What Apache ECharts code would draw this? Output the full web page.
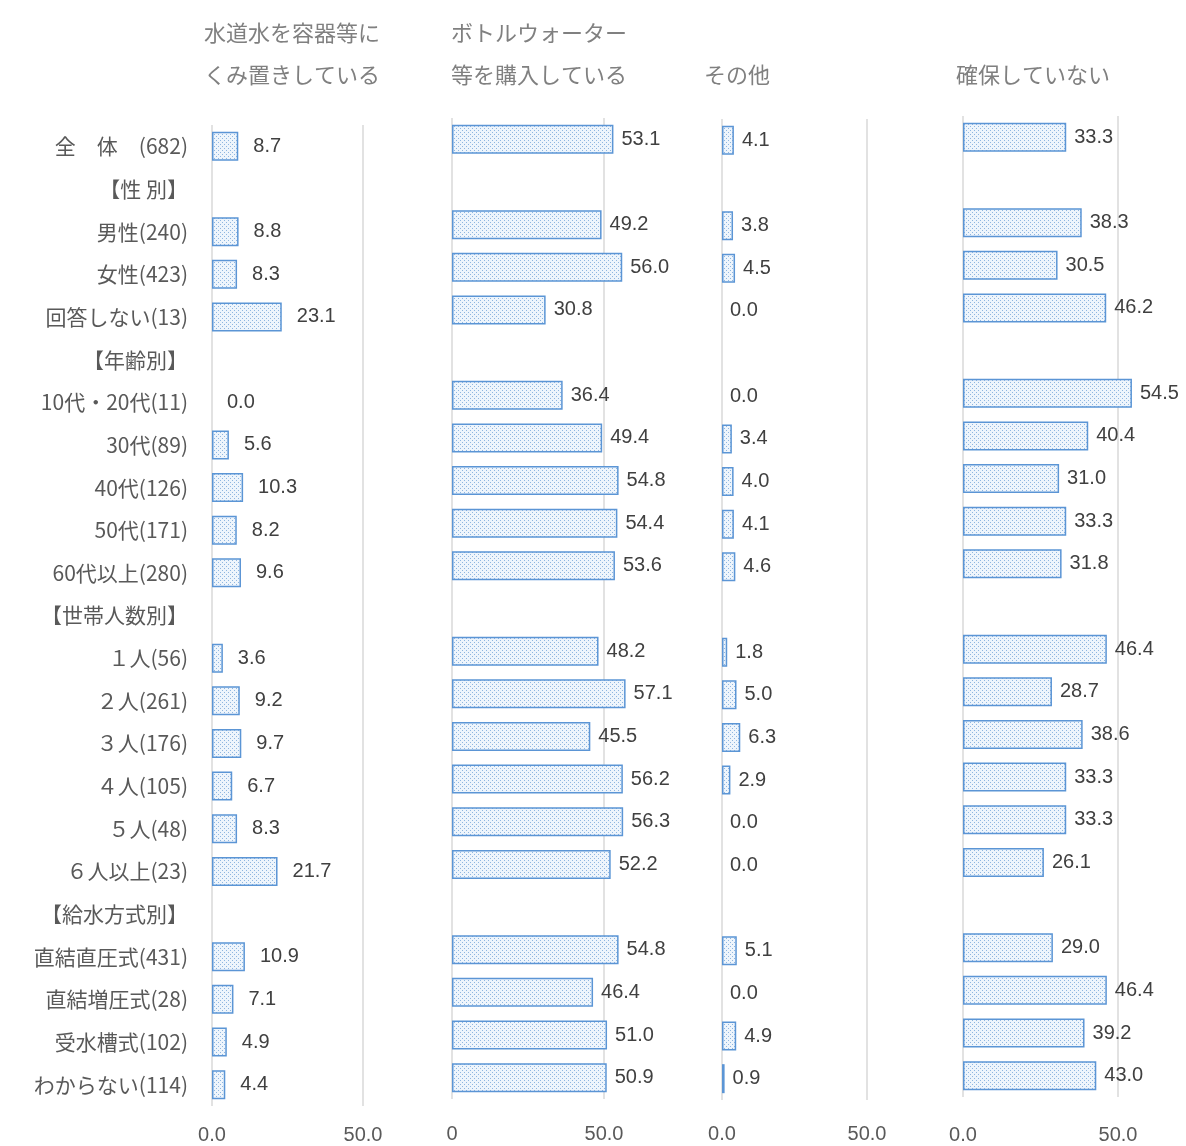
<!DOCTYPE html>
<html>
<head>
<meta charset="utf-8">
<script src="https://cdn.jsdelivr.net/npm/echarts@6/dist/echarts.min.js"></script>
<style>
html,body{margin:0;padding:0;background:#fff;}
#chart{width:1186px;height:1146px;}
</style>
</head>
<body>
<div id="chart"></div>
<script>
const categories = ["全　体　(682)", "【性 別】", "男性(240)", "女性(423)", "回答しない(13)", "【年齢別】", "10代・20代(11)", "30代(89)", "40代(126)", "50代(171)", "60代以上(280)", "【世帯人数別】", "１人(56)", "２人(261)", "３人(176)", "４人(105)", "５人(48)", "６人以上(23)", "【給水方式別】", "直結直圧式(431)", "直結増圧式(28)", "受水槽式(102)", "わからない(114)"];

const kumioki = [8.7, null, 8.8, 8.3, 23.1, null, 0.0, 5.6, 10.3, 8.2, 9.6, null, 3.6, 9.2, 9.7, 6.7, 8.3, 21.7, null, 10.9, 7.1, 4.9, 4.4];
const bottled = [53.1, null, 49.2, 56.0, 30.8, null, 36.4, 49.4, 54.8, 54.4, 53.6, null, 48.2, 57.1, 45.5, 56.2, 56.3, 52.2, null, 54.8, 46.4, 51.0, 50.9];
const other = [4.1, null, 3.8, 4.5, 0.0, null, 0.0, 3.4, 4.0, 4.1, 4.6, null, 1.8, 5.0, 6.3, 2.9, 0.0, 0.0, null, 5.1, 0.0, 4.9, 0.9];
const notSecured = [33.3, null, 38.3, 30.5, 46.2, null, 54.5, 40.4, 31.0, 33.3, 31.8, null, 46.4, 28.7, 38.6, 33.3, 33.3, 26.1, null, 29.0, 46.4, 39.2, 43.0];

const panelTitles = [["水道水を容器等に", "くみ置きしている"], ["ボトルウォーター", "等を購入している"], ["", "その他"], ["", "確保していない"]];
const xTickMin = 0, xTickMax = 50;

// dotted pattern fill
const pc = document.createElement('canvas');
pc.width = 4; pc.height = 4;
const pctx = pc.getContext('2d');
pctx.fillStyle = '#eef5fc';
pctx.fillRect(0, 0, 4, 4);
pctx.fillStyle = '#8fb6e0';
pctx.fillRect(0, 0, 1, 1);
pctx.fillRect(2, 2, 1, 1);

const FONT = '"Noto Sans CJK JP", "Noto Sans", sans-serif';
const NUMFONT = '"Liberation Sans", "Noto Sans", sans-serif';

const panels = [
  {data: kumioki, left: 212, width: 151, top: 125, dist: 15, margin: 19, zeroLabel: '0.0', title: panelTitles[0], tx: 292},
  {data: bottled, left: 452, width: 152, top: 118, dist: 8, margin: 25, zeroLabel: '0', title: panelTitles[1], tx: 539},
  {data: other, left: 722, width: 145, top: 119, dist: 8, margin: 24, zeroLabel: '0.0', title: panelTitles[2], tx: 737},
  {data: notSecured, left: 963, width: 155, top: 116, dist: 8, margin: 28, zeroLabel: '0.0', title: panelTitles[3], tx: 1033}
];
const H = 981;

const grid = [], xAxis = [], yAxis = [], series = [], graphic = [];
panels.forEach((p, i) => {
  grid.push({left: p.left, width: p.width, top: p.top, height: H, containLabel: false});
  xAxis.push({
    type: 'value', gridIndex: i, min: xTickMin, max: xTickMax, interval: 50,
    axisLine: {show: false}, axisTick: {show: false},
    splitLine: {show: true, lineStyle: {color: '#d9d9d9', width: 1.5}},
    axisLabel: {
      margin: p.margin, color: '#595959', fontSize: 20, fontFamily: NUMFONT,
      formatter: v => v === 0 ? p.zeroLabel : v.toFixed(1)
    }
  });
  yAxis.push({
    type: 'category', gridIndex: i, data: categories, inverse: true,
    axisLine: {show: false}, axisTick: {show: false},
    axisLabel: {show: i === 0, margin: 24, color: '#595959', fontSize: 21, fontFamily: FONT}
  });
  const items = p.data.map(v => v === 0 ? {value: 0, itemStyle: {borderWidth: 0, color: 'rgba(0,0,0,0)'}} : v);
  series.push({
    type: 'bar', xAxisIndex: i, yAxisIndex: i, data: items, barWidth: 29, clip: false,
    itemStyle: {color: {image: pc, repeat: 'repeat'}, borderColor: '#5b95d5', borderWidth: 1.5},
    label: {
      show: true, position: 'right', distance: p.dist, color: '#404040', fontSize: 20, fontFamily: NUMFONT,
      formatter: q => (q.value === null || q.value === undefined) ? '' : Number(q.value).toFixed(1)
    },
    animation: false
  });
  p.title.forEach((t, j) => {
    if (!t) return;
    graphic.push({
      type: 'text', x: p.tx, y: j === 0 ? 33 : 75,
      style: {text: t, fill: '#808080', font: '22px ' + FONT, textAlign: 'center', textVerticalAlign: 'middle'}
    });
  });
});

const chart = echarts.init(document.getElementById('chart'));
chart.setOption({animation: false, grid, xAxis, yAxis, series, graphic});
</script>
</body>
</html>
